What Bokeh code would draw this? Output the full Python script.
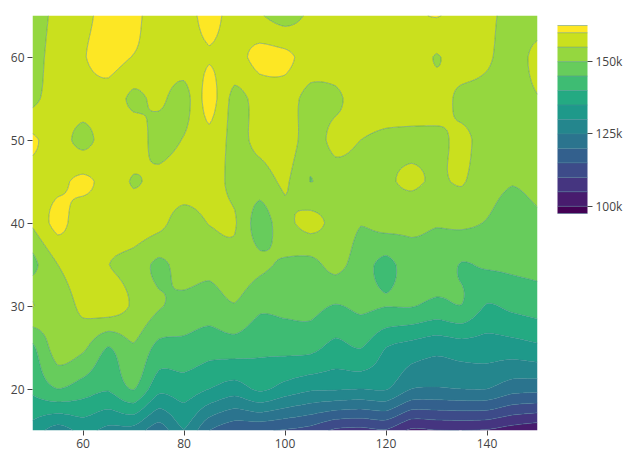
import numpy as np
from bokeh.plotting import figure
from bokeh.embed import file_html
from bokeh.resources import INLINE
from bokeh.models import Range1d, FixedTicker
from bokeh.palettes import Viridis256, linear_palette

x_values = list(range(50, 155, 5))
y_values = list(range(15, 70, 5))

z15 = [133,127.5,131.5,128.5,128,122,129.8,120,116,115.5,114.5,113,109,108.3,109.5,104,104.8,105,104.5,102.5,101]
z20 = [141,145,142.5,140.5,145.3,136.5,137.5,135,132.5,136,133,130.8,130.5,130,130.4,125,124.5,125,125,122,121.5]
z25 = [144,152.5,151,144.8,149.5,143.5,143.5,142,142.5,141,141.5,141.5,138.5,140.2,135,133,131.5,132.5,132.5,132.8,134]
z30 = [155.3,152,156.3,158,154.3,150.5,148.5,147.5,149.7,146,146.3,146.5,144.7,146,145.15,145.3,143.7,144.9,139.6,141.2,142.3]
z35 = [148.5,155,158,155.1,153,149,152,151.5,153,151,149.3,148.5,151.5,147.5,143.5,148,148,144.7,145.7,146,146.5]
z40 = [155.7,161.5,157,158,158,156.5,152.5,155.2,155.5,147.5,153.5,156.5,153.5,150.2,152,151.2,150.3,151,149.7,147.5,149]
z45 = [157.5,158.8,161,158.2,154.6,156.5,158,157.5,153.5,152.5,155.7,149.95,152.5,152.5,154.3,155.8,154.3,155.4,152,150.3,151.5]
z50 = [160.8,157.5,153.5,157.5,158,153,155.3,158.7,153.5,156.5,158,152.5,156.5,155,154,153.8,154,155.8,153.5,153,152.5]
z55 = [153.5,158,158,158,154,156,153,162,153.5,157,157.5,153.2,154,157.5,158,158,157,154,153.5,153,154.8]
z60 = [152,158,159.7,162,159.8,158,158,159.7,158.5,161.5,161.2,158,158,158,158,158,154.7,157.5,155.7,153,156.5]
z65 = [151,157,158.5,162,161.5,157,158,161.5,158,155.5,152.5,156,158,158,158.5,159,160.3,158,156,153.5,152]
rows_k = [z15,z20,z25,z30,z35,z40,z45,z50,z55,z60,z65]

level_values = [97500] + list(range(100000, 165000, 5000)) + [162500]
colorbar_ticks = [100000, 125000, 150000]
colorbar_labels = {100000: "100k", 125000: "125k", 150000: "150k"}
band_colors = linear_palette(Viridis256, 14)

def smooth_axis(a, f, mix=0.65):
    # rendering of contour smoothing: Catmull-Rom blended with linear (read values stay on the knots)
    n = a.shape[0]
    pad = np.concatenate([[2*a[0]-a[1]], a, [2*a[-1]-a[-2]]])
    t = np.linspace(0, n-1, (n-1)*f+1)
    i = np.minimum(t.astype(int), n-2)
    u = (t-i).reshape((-1,)+(1,)*(a.ndim-1))
    p0, p1, p2, p3 = pad[i], pad[i+1], pad[i+2], pad[i+3]
    cr = 0.5*(2*p1+(p2-p0)*u+(2*p0-5*p1+4*p2-p3)*u**2+(3*p1-p0-3*p2+p3)*u**3)
    li = p1+(p2-p1)*u
    return mix*cr+(1-mix)*li

Z = np.array(rows_k, dtype=float)*1000
F = 10
Zs = smooth_axis(smooth_axis(Z, F).T, F).T
Zs = np.clip(Zs, level_values[0]+1, level_values[-1]-1)
xs = smooth_axis(np.array(x_values, dtype=float), F, 0.0)
ys = smooth_axis(np.array(y_values, dtype=float), F, 0.0)

FONT = "Open Sans"
p = figure(frame_width=505, frame_height=415, width=622, height=450,
           x_range=Range1d(50,150), y_range=Range1d(15,65),
           toolbar_location=None, output_backend="svg",
           min_border_left=32, min_border_right=85, min_border_top=15, min_border_bottom=20)
p.grid.visible = False
p.outline_line_color = None
for ax in (p.xaxis[0], p.yaxis[0]):
    ax.axis_line_color = None
    ax.major_tick_in = 0
    ax.major_tick_out = 5
    ax.minor_tick_line_color = None
    ax.major_tick_line_color = "#444444"
    ax.major_label_text_color = "#444444"
    ax.major_label_text_font = FONT
    ax.major_label_text_font_size = "12px"
    ax.major_label_standoff = 3
p.xaxis[0].ticker = FixedTicker(ticks=[60,80,100,120,140])
p.yaxis[0].ticker = FixedTicker(ticks=[20,30,40,50,60])

cr = p.contour(xs, ys, Zs, level_values, fill_color=band_colors, line_color="#3a7f8f", line_width=1, line_alpha=0.45)
cb = cr.construct_color_bar(width=30, height=188, location=(20,217), margin=0, padding=0,
        major_label_overrides=colorbar_labels,
        major_label_text_font=FONT, major_label_text_font_size="12px", major_label_text_color="#444444",
        major_tick_in=0, major_tick_out=5, major_tick_line_color="#444444", minor_tick_line_color=None,
        bar_line_color="#777777", bar_line_width=1,
        background_fill_alpha=0, border_line_color=None, label_standoff=3)
cb.ticker = FixedTicker(ticks=colorbar_ticks)
p.add_layout(cb, "right")

open("out.html", "w").write(file_html(p, INLINE))
